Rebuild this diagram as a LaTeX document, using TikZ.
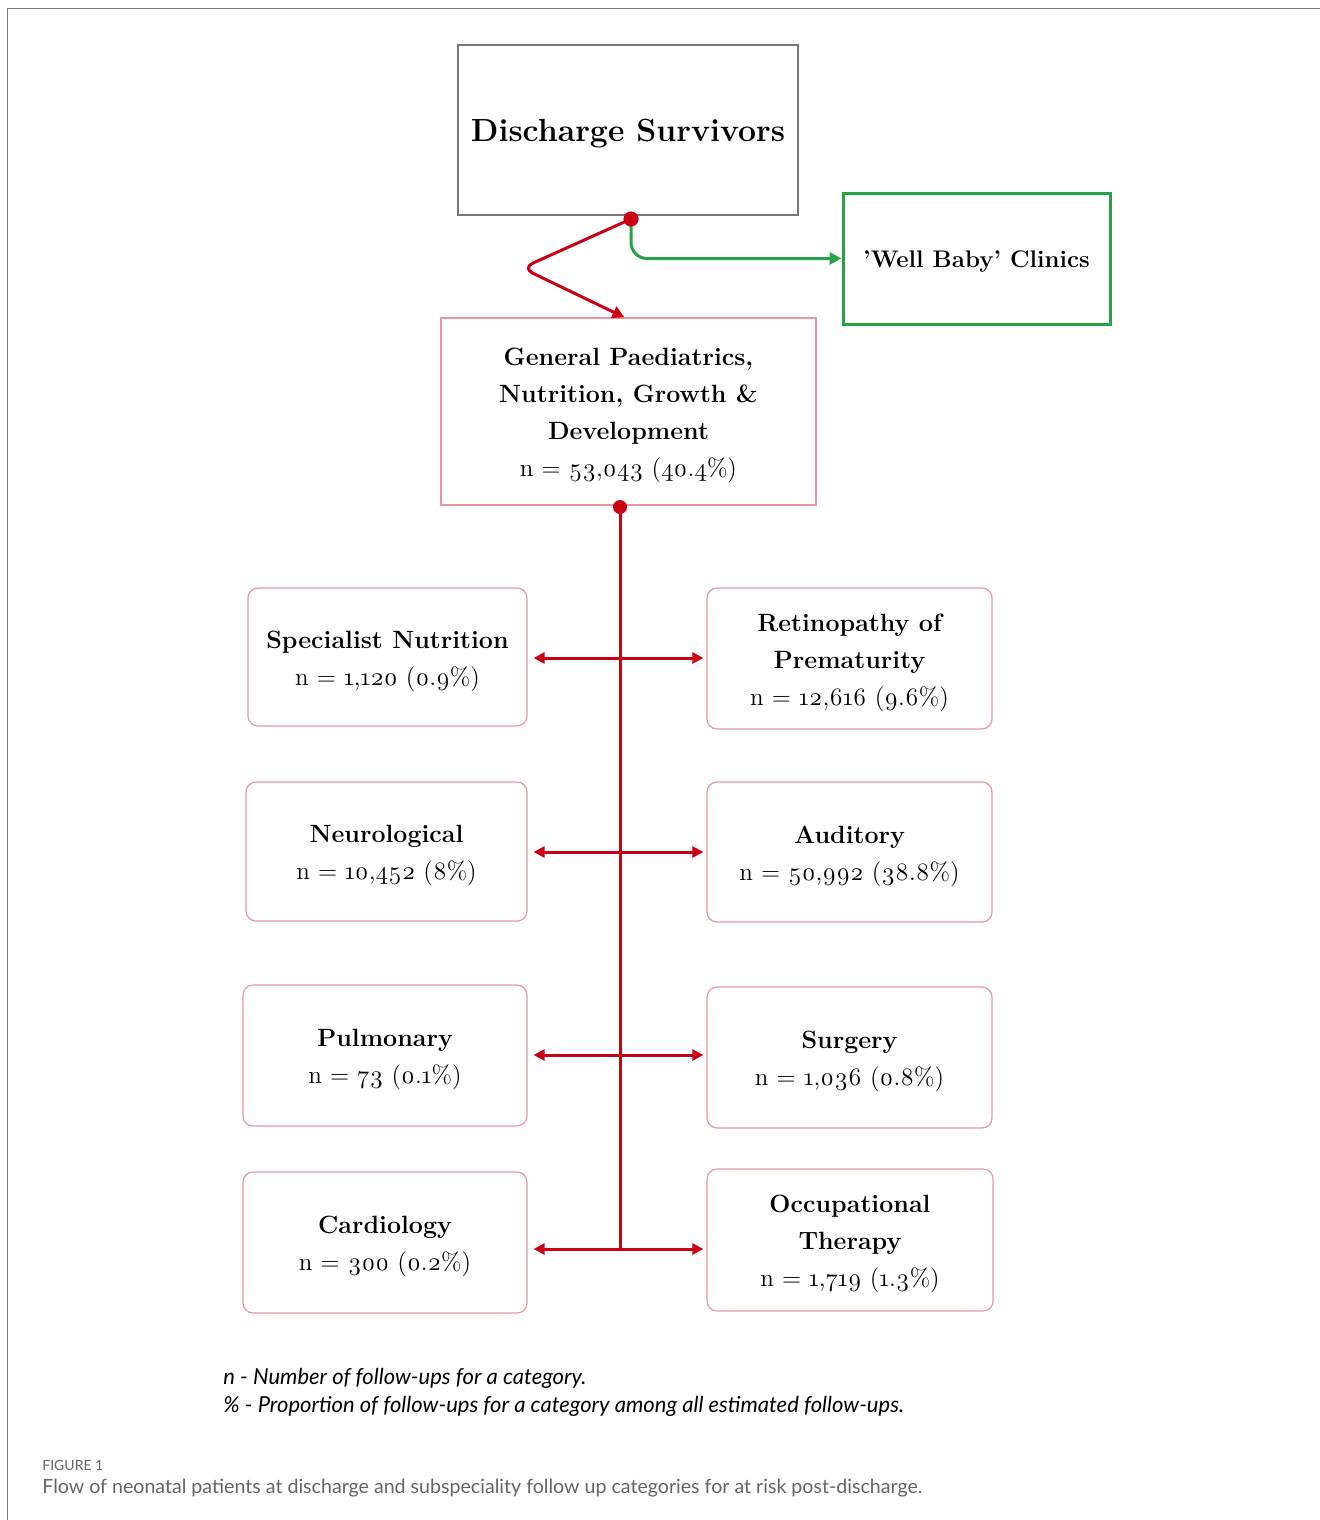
\documentclass[tikz,border=0pt]{standalone}
\usepackage{fontspec}
\setmainfont{Latin Modern Roman}[Numbers=OldStyle]
\newfontfamily\lato{Lato}
\usetikzlibrary{arrows.meta,calc}
\definecolor{cred}{RGB}{204,0,20}
\definecolor{cpink}{RGB}{232,150,160}
\definecolor{cgreen}{RGB}{38,162,72}
\definecolor{cframe}{RGB}{120,120,120}
\definecolor{ccap}{RGB}{100,100,100}
\newcommand\bxs{\rule{0pt}{12.8pt}}
\begin{document}
\begin{tikzpicture}[x=0.5pt,y=-0.5pt,
  boxtext/.style={align=center,inner sep=0pt,font=\fontsize{12.5}{18.5}\selectfont},
  topbox/.style={draw=cframe,line width=0.6pt,boxtext},
  genbox/.style={draw=cpink,line width=0.6pt,boxtext},
  catbox/.style={draw=cpink,line width=0.6pt,rounded corners=5pt,boxtext},
  wellbox/.style={draw=cgreen,line width=1.5pt,boxtext},
  redline/.style={draw=cred,line width=1.5pt},
  redarrow/.style={redline,-{Triangle[length=6pt,width=6pt]}},
  dblarrow/.style={redline,{Triangle[length=5.5pt,width=5.5pt]}-{Triangle[length=5.5pt,width=5.5pt]},shorten <=3pt,shorten >=1.5pt},
  greenarrow/.style={draw=cgreen,line width=1.5pt,-{Triangle[length=6pt,width=6pt]},rounded corners=8pt},
  legend/.style={anchor=west,inner sep=0pt,font=\lato\itshape\fontsize{11}{13}\selectfont},
  caption/.style={anchor=west,inner sep=0pt,text=ccap,font=\lato\fontsize{9.8}{11}\selectfont}
]
\useasboundingbox (0,0) rectangle (1320,1520);
\draw[cframe,line width=0.9pt] (7.5,1520) -- (7.5,8.5) -- (1320,8.5);

\node[topbox,minimum width=170pt,minimum height=85pt] (ds) at (628,130)
  {\fontsize{16}{20}\selectfont\bfseries\rule{0pt}{15pt}Discharge Survivors};
\node[wellbox,minimum width=133.5pt,minimum height=65.5pt] (wb) at (976.5,258.5)
  {\fontsize{12}{15}\selectfont\bfseries\rule{0pt}{11pt}'Well Baby' Clinics};
\node[genbox,minimum width=187.5pt,minimum height=93.5pt] (gen) at (628.5,411.5)
  {\bxs\bfseries General Paediatrics,\\ \bfseries Nutrition, Growth \&\\ \bfseries Development\\ n = 53,043 (40.4\%)};

\node[catbox,minimum width=139.5pt,minimum height=69pt] (sn) at (387.5,657)
  {\bxs\bfseries Specialist Nutrition\\ n = 1,120 (0.9\%)};
\node[catbox,minimum width=142.5pt,minimum height=70.5pt] (rop) at (849.5,658.5)
  {\bxs\bfseries Retinopathy of\\ \bfseries Prematurity\\ n = 12,616 (9.6\%)};
\node[catbox,minimum width=140.5pt,minimum height=69.5pt] (neu) at (386.5,851.5)
  {\bxs\bfseries Neurological\\ n = 10,452 (8\%)};
\node[catbox,minimum width=142.5pt,minimum height=70pt] (aud) at (849.5,852)
  {\bxs\bfseries Auditory\\ n = 50,992 (38.8\%)};
\node[catbox,minimum width=142pt,minimum height=70.5pt] (pul) at (385,1055.5)
  {\bxs\bfseries Pulmonary\\ n = 73 (0.1\%)};
\node[catbox,minimum width=142.5pt,minimum height=70.5pt] (sur) at (849.5,1057.5)
  {\bxs\bfseries Surgery\\ n = 1,036 (0.8\%)};
\node[catbox,minimum width=142pt,minimum height=70.5pt] (car) at (385,1242.5)
  {\bxs\bfseries Cardiology\\ n = 300 (0.2\%)};
\node[catbox,minimum width=143pt,minimum height=71pt] (ot) at (850,1240)
  {\bxs\bfseries Occupational\\ \bfseries Therapy\\ n = 1,719 (1.3\%)};

% connectors
\coordinate (d1) at (631,219);
\coordinate (bend) at (522,268);
\coordinate (d2) at (620,507);
\coordinate (j1) at (620,658);
\coordinate (j2) at (620,852);
\coordinate (j3) at (620,1055);
\coordinate (j4) at (620,1249);

\draw[greenarrow] (d1) |- (wb.west);
\draw[redarrow,rounded corners=6pt] (d1) -- (bend) -- ([xshift=-2pt]gen.north);
\fill[cred] (d1) circle (3.8pt);

\draw[redline] (d2) -- (j4);
\fill[cred] (d2) circle (3.5pt);
\draw[dblarrow] (sn.east |- j1) -- (rop.west |- j1);
\draw[dblarrow] (neu.east |- j2) -- (aud.west |- j2);
\draw[dblarrow] (pul.east |- j3) -- (sur.west |- j3);
\draw[dblarrow] (car.east |- j4) -- (ot.west |- j4);

% legend
\node[legend] (lg1) at (223,1378) {n - Number of follow-ups for a category.};
\node[legend] (lg2) at (223,1406) {\% - Proportion of follow-ups for a category among all estimated follow-ups.};

% caption
\node[caption,font=\lato\fontsize{7}{9}\selectfont] (fig) at (42,1465) {FIGURE 1};
\node[caption] (cap) at (42,1488) {Flow of neonatal patients at discharge and subspeciality follow up categories for at risk post-discharge.};
\end{tikzpicture}
\end{document}
